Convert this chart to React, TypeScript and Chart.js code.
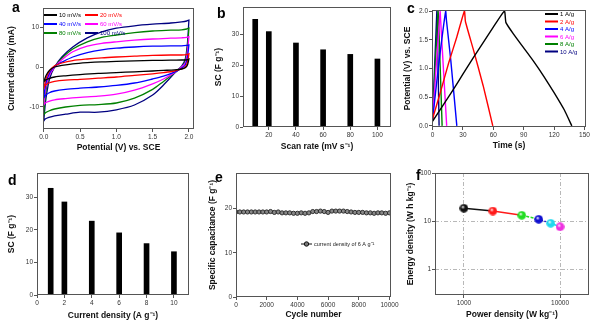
import React, { useEffect, useRef } from "react";
import { Chart, registerables } from "chart.js";

Chart.register(...registerables);

const FONT = "'Liberation Sans', Arial, Helvetica, sans-serif";
const TITLE_SIZE = 8.5;
const TICK_SIZE = 6.5;

// ---------- Panel a: cyclic voltammetry ----------
const cvFwdPotential = [0, 0.03, 0.08, 0.15, 0.25, 0.4, 0.6, 0.8, 1.0, 1.25, 1.5, 1.75, 1.9, 1.97, 2.0];
const cvRevPotential = [2.0, 1.98, 1.95, 1.9, 1.8, 1.65, 1.5, 1.25, 1.0, 0.75, 0.5, 0.3, 0.15, 0.07, 0.02, 0.0];
const cvLabels = ["10 mV/s", "20 mV/s", "40 mV/s", "60 mV/s", "80 mV/s", "100 mV/s"];
const cvColors = ["#000000", "#ff0000", "#0000ff", "#ff00ff", "#008000", "#000080"];
const cv10Fwd = [-3.8, -2.2, -0.8, 0, 0.4, 0.8, 1.1, 1.3, 1.4, 1.55, 1.65, 1.7, 1.75, 1.8, 2.0];
const cv10Rev = [2.0, 0.5, -0.2, -0.5, -0.7, -0.85, -1.0, -1.2, -1.4, -1.6, -1.9, -2.2, -2.5, -2.9, -3.3, -3.8];
const cv20Fwd = [-5.5, -3, -1, 0.3, 1.0, 1.6, 2.0, 2.3, 2.5, 2.7, 2.9, 3.0, 3.0, 3.1, 3.3];
const cv20Rev = [3.3, 1.2, 0, -0.5, -1.0, -1.4, -1.7, -2.1, -2.5, -2.8, -3.1, -3.3, -3.6, -4, -4.6, -5.5];
const cv40Fwd = [-7.8, -4, -1.5, 0.2, 1.2, 2.5, 3.6, 4.3, 4.7, 5.0, 5.2, 5.3, 5.3, 5.4, 5.5];
const cv40Rev = [5.5, 2.5, 0.5, -0.3, -1.3, -2.3, -3.0, -4.0, -4.6, -5.0, -5.3, -5.6, -6, -6.5, -7.2, -7.8];
const cv60Fwd = [-9.5, -5, -2, 0, 1.8, 3.8, 5.2, 5.9, 6.3, 6.7, 7.0, 7.2, 7.3, 7.4, 7.6];
const cv60Rev = [7.6, 4, 1, 0, -1.4, -3, -4.2, -5.8, -6.8, -7.3, -7.6, -7.9, -8.2, -8.6, -9, -9.5];
const cv80Fwd = [-12, -6, -2, 0, 2.2, 4.5, 6.3, 7.4, 8.0, 8.6, 9.0, 9.2, 9.3, 9.5, 9.7];
const cv80Rev = [9.7, 5, 1.5, 0, -1.5, -3.6, -5.6, -7.8, -9.0, -9.4, -9.6, -10, -10.5, -11, -11.5, -12];
const cv100Fwd = [-13.5, -8, -3, 0, 2.5, 5.0, 7.3, 8.8, 9.7, 10.3, 10.7, 11.0, 11.3, 11.5, 11.7];
const cv100Rev = [11.7, 6, 2, 0.2, -1.6, -4.5, -7.0, -9.5, -10.7, -11.3, -11.3, -11.8, -12.2, -12.6, -13.0, -13.5];
const cvFwdSeries = [cv10Fwd, cv20Fwd, cv40Fwd, cv60Fwd, cv80Fwd, cv100Fwd];
const cvRevSeries = [cv10Rev, cv20Rev, cv40Rev, cv60Rev, cv80Rev, cv100Rev];
const cvXTicks = [0, 0.5, 1.0, 1.5, 2.0];
const cvYTicks = [-10, 0, 10];

// ---------- Panel b: SC vs scan rate ----------
const scanRates = [10, 20, 40, 60, 80, 100];
const scByScanRate = [35, 31, 27.3, 25.1, 23.6, 22.1];
const scanXTicks = [20, 40, 60, 80, 100];
const scanYTicks = [0, 10, 20, 30];

// ---------- Panel c: galvanostatic charge/discharge ----------
const gcdLabels = ["1 A/g", "2 A/g", "4 A/g", "6 A/g", "8 A/g", "10 A/g"];
const gcdColors = ["#000000", "#ff0000", "#0000ff", "#ff00ff", "#008000", "#000080"];
const gcd1Time = [0, 10, 20, 30, 40, 50, 60, 71, 72.5, 80, 90, 100, 110, 120, 130, 137.5];
const gcd1Pot = [0.08, 0.35, 0.62, 0.9, 1.18, 1.45, 1.72, 2.0, 1.8, 1.6, 1.36, 1.12, 0.86, 0.58, 0.28, 0];
const gcd2Time = [0, 8, 16, 24, 31.5, 32.5, 40, 50, 59.5];
const gcd2Pot = [0.12, 0.6, 1.1, 1.55, 2.0, 1.82, 1.35, 0.7, 0];
const gcd4Time = [0, 6, 13, 13.7, 18, 24];
const gcd4Pot = [0.1, 1.05, 2.0, 1.85, 1.15, 0];
const gcd6Time = [0, 7.5, 8, 14];
const gcd6Pot = [0.1, 2.0, 1.85, 0];
const gcd8Time = [0, 5.5, 6, 9.5];
const gcd8Pot = [0.1, 2.0, 1.85, 0];
const gcd10Time = [0, 4.3, 4.7, 6.5];
const gcd10Pot = [0.1, 2.0, 1.85, 0];
const gcdTimes = [gcd1Time, gcd2Time, gcd4Time, gcd6Time, gcd8Time, gcd10Time];
const gcdPots = [gcd1Pot, gcd2Pot, gcd4Pot, gcd6Pot, gcd8Pot, gcd10Pot];
const timeTicks = [0, 30, 60, 90, 120, 150];
const potTicks = [0, 0.5, 1.0, 1.5, 2.0];

// ---------- Panel d: SC vs current density ----------
const currentDensities = [1, 2, 4, 6, 8, 10];
const scByCurrent = [32.8, 28.6, 22.7, 19.1, 15.8, 13.3];
const currentXTicks = [0, 2, 4, 6, 8, 10];
const currentYTicks = [0, 10, 20, 30];

// ---------- Panel e: cycling stability ----------
const cycleNumbers = [0, 250, 500, 750, 1000, 1250, 1500, 1750, 2000, 2250, 2500, 2750, 3000, 3250, 3500, 3750, 4000, 4250, 4500, 4750, 5000, 5250, 5500, 5750, 6000, 6250, 6500, 6750, 7000, 7250, 7500, 7750, 8000, 8250, 8500, 8750, 9000, 9250, 9500, 9750, 10000];
const cycleCapacitance = [19.2, 19.2, 19.2, 19.2, 19.2, 19.2, 19.2, 19.2, 19.2, 19.3, 19.1, 19.2, 19.0, 19.0, 19.0, 18.9, 18.9, 19.0, 18.9, 19.0, 19.3, 19.3, 19.4, 19.3, 19.1, 19.4, 19.4, 19.4, 19.4, 19.3, 19.2, 19.1, 19.1, 19.1, 19.0, 19.0, 18.9, 19.0, 19.0, 18.9, 19.0];
const cycleLabel = "current density of 6 A g\u207B\u00B9";
const cycleXTicks = [0, 2000, 4000, 6000, 8000, 10000];
const cycleYTicks = [0, 10, 20];

// ---------- Panel f: Ragone plot ----------
const powerDensity = [1000, 2000, 4000, 6000, 8000, 10000];
const energyDensity = [18.5, 16.2, 13.2, 10.9, 9.0, 7.6];
const ragoneColors = ["#111111", "#ff1a1a", "#22dd22", "#1010d0", "#20d8ee", "#ee30e0"];
const powerTicks = [1000, 10000];
const energyTicks = [1, 10, 100];

// ---------- layout ----------
type Panel = {
  box: { left: number; top: number; width: number; height: number };
  plot: { l: number; r: number; t: number; b: number };
  yTitleX: number;
  xTitleY: number;
};

const PA: Panel = { box: { left: 0, top: 0, width: 205, height: 163 }, plot: { l: 43, r: 194, t: 8, b: 129 }, yTitleX: 12, xTitleY: 148 };
const PB: Panel = { box: { left: 205, top: 0, width: 195, height: 163 }, plot: { l: 243, r: 391, t: 7, b: 127 }, yTitleX: 219, xTitleY: 147 };
const PC: Panel = { box: { left: 400, top: 0, width: 200, height: 163 }, plot: { l: 432, r: 586, t: 10, b: 127 }, yTitleX: 408, xTitleY: 146 };
const PD: Panel = { box: { left: 0, top: 163, width: 200, height: 163 }, plot: { l: 37, r: 189, t: 173, b: 295 }, yTitleX: 12, xTitleY: 316 };
const PE: Panel = { box: { left: 205, top: 163, width: 200, height: 163 }, plot: { l: 236, r: 391, t: 173, b: 297 }, yTitleX: 213, xTitleY: 315 };
const PF: Panel = { box: { left: 400, top: 163, width: 200, height: 163 }, plot: { l: 435, r: 589, t: 173, b: 295 }, yTitleX: 411, xTitleY: 315 };
const PANELS = [PA, PB, PC, PD, PE, PF];

const LETTERS = [
  { t: "a", left: 12, top: 0 },
  { t: "b", left: 217, top: 6 },
  { t: "c", left: 407, top: 1 },
  { t: "d", left: 8, top: 173 },
  { t: "e", left: 215, top: 170 },
  { t: "f", left: 416, top: 168 },
];

function layoutPadding(p: Panel) {
  return {
    left: 0,
    top: p.plot.t - p.box.top,
    right: p.box.left + p.box.width - p.plot.r,
    bottom: 0,
  };
}

type AxisOpt = {
  type?: string;
  min: number;
  max: number;
  ticks: number[];
  fmt: (v: number) => string;
  title: string;
  gridColor?: string;
};

function scaleOpts(axis: "x" | "y", p: Panel, o: AxisOpt) {
  const lh = TITLE_SIZE * 1.2;
  const isX = axis === "x";
  const fixed = isX ? p.box.top + p.box.height - p.plot.b : p.plot.l - p.box.left;
  const titlePad = isX ? p.box.top + p.box.height - p.xTitleY - lh / 2 : p.yTitleX - p.box.left - lh / 2;
  return {
    type: o.type || "linear",
    position: isX ? "bottom" : "left",
    min: o.min,
    max: o.max,
    offset: false,
    afterFit: (s: any) => {
      if (isX) s.height = fixed;
      else s.width = fixed;
    },
    afterBuildTicks: (s: any) => {
      s.ticks = o.ticks.map((v) => ({ value: v }));
    },
    ticks: {
      font: { family: FONT, size: TICK_SIZE },
      color: "#333",
      padding: 1,
      autoSkip: false,
      maxRotation: 0,
      minRotation: 0,
      callback: (v: any) => o.fmt(Number(v)),
    },
    grid: {
      display: true,
      drawOnChartArea: !!o.gridColor,
      drawTicks: true,
      tickLength: 3,
      color: o.gridColor || "#555",
      tickColor: "#555",
      lineWidth: 1,
      offset: false,
    },
    border: { display: false, dash: o.gridColor ? [4, 2, 1, 2] : [] },
    title: {
      display: true,
      text: o.title,
      color: "#111",
      font: { family: FONT, size: TITLE_SIZE, weight: "bold" },
      padding: isX ? { top: 0, bottom: titlePad } : { top: titlePad, bottom: 0 },
    },
  };
}

const framePlugin = {
  id: "frame",
  afterDatasetsDraw(chart: any) {
    const { ctx, chartArea: a } = chart;
    ctx.save();
    ctx.strokeStyle = "#555";
    ctx.lineWidth = 1;
    const l = Math.round(a.left) + 0.5;
    const t = Math.round(a.top) + 0.5;
    const r = Math.round(a.right) - 0.5;
    const b = Math.round(a.bottom) - 0.5;
    ctx.strokeRect(l, t, r - l, b - t);
    ctx.restore();
  },
};

type LegendItem = { x: number; y: number; len: number; color: string; label: string; textColor?: string; marker?: boolean };

function legendPlugin(items: LegendItem[], fontSize: number) {
  return {
    id: "miniLegend",
    afterDraw(chart: any) {
      const ctx = chart.ctx;
      ctx.save();
      ctx.font = `${fontSize}px ${FONT}`;
      ctx.textBaseline = "middle";
      ctx.textAlign = "left";
      items.forEach((it) => {
        ctx.strokeStyle = it.color;
        ctx.lineWidth = it.marker ? 1 : 2;
        ctx.beginPath();
        ctx.moveTo(it.x, it.y);
        ctx.lineTo(it.x + it.len, it.y);
        ctx.stroke();
        if (it.marker) {
          ctx.beginPath();
          ctx.arc(it.x + it.len / 2, it.y, 2.2, 0, Math.PI * 2);
          ctx.fillStyle = "#777";
          ctx.fill();
          ctx.lineWidth = 1;
          ctx.strokeStyle = "#111";
          ctx.stroke();
        }
        ctx.fillStyle = it.textColor || it.color;
        ctx.fillText(it.label, it.x + it.len + 2, it.y + 0.5);
      });
      ctx.restore();
    },
  };
}

function sphere(color: string, d = 9) {
  const c = document.createElement("canvas");
  c.width = d;
  c.height = d;
  const g = c.getContext("2d")!;
  const grad = g.createRadialGradient(d * 0.36, d * 0.33, 0.2, d / 2, d / 2, d / 2);
  grad.addColorStop(0, "#ffffff");
  grad.addColorStop(0.4, color);
  grad.addColorStop(1, color);
  g.fillStyle = grad;
  g.beginPath();
  g.arc(d / 2, d / 2, d / 2 - 0.2, 0, Math.PI * 2);
  g.fill();
  return c;
}

const baseOptions = (p: Panel) => ({
  responsive: false,
  animation: false as const,
  events: [] as any[],
  layout: { padding: layoutPadding(p) },
  plugins: { legend: { display: false }, tooltip: { enabled: false }, title: { display: false } },
});

function configA(): any {
  const datasets = cvLabels.map((label, i) => {
    const pts = cvFwdPotential.map((x, j) => ({ x, y: cvFwdSeries[i][j] }))
      .concat(cvRevPotential.map((x, j) => ({ x, y: cvRevSeries[i][j] })));
    return {
      label,
      data: pts,
      showLine: true,
      borderColor: cvColors[i],
      borderWidth: 1.3,
      pointRadius: 0,
      tension: 0.3,
      fill: false,
    };
  });
  const legendItems = cvLabels.map((label, i) => ({
    x: i % 2 === 0 ? 44 : 85,
    y: 15 + Math.floor(i / 2) * 9,
    len: 13,
    color: cvColors[i],
    label,
  }));
  return {
    type: "scatter",
    data: { datasets },
    options: {
      ...baseOptions(PA),
      scales: {
        x: scaleOpts("x", PA, { min: -0.01, max: 2.07, ticks: cvXTicks, fmt: (v) => v.toFixed(1), title: "Potential (V) vs. SCE" }),
        y: scaleOpts("y", PA, { min: -15.5, max: 14.75, ticks: cvYTicks, fmt: (v) => String(v), title: "Current density (mA)" }),
      },
    },
    plugins: [framePlugin, legendPlugin(legendItems, 6)],
  };
}

function configB(): any {
  return {
    type: "bar",
    data: {
      datasets: [{
        label: "SC",
        data: scanRates.map((x, i) => ({ x, y: scByScanRate[i] })),
        backgroundColor: "#000",
        barThickness: 5,
      }],
    },
    options: {
      ...baseOptions(PB),
      scales: {
        x: scaleOpts("x", PB, { min: 1, max: 110, ticks: scanXTicks, fmt: (v) => String(v), title: "Scan rate (mV s\u207B\u00B9)" }),
        y: scaleOpts("y", PB, { min: 0, max: 39, ticks: scanYTicks, fmt: (v) => String(v), title: "SC (F g\u207B\u00B9)" }),
      },
    },
    plugins: [framePlugin],
  };
}

function configC(): any {
  const datasets = gcdLabels.map((label, i) => ({
    label,
    data: gcdTimes[i].map((x, j) => ({ x, y: gcdPots[i][j] })),
    showLine: true,
    borderColor: gcdColors[i],
    borderWidth: 1.4,
    pointRadius: 0,
    tension: 0.15,
  }));
  const legendItems = gcdLabels.map((label, i) => ({
    x: 145,
    y: 14 + i * 7.5,
    len: 13,
    color: gcdColors[i],
    label,
  }));
  return {
    type: "scatter",
    data: { datasets },
    options: {
      ...baseOptions(PC),
      scales: {
        x: scaleOpts("x", PC, { min: -0.5, max: 151.5, ticks: timeTicks, fmt: (v) => String(v), title: "Time (s)" }),
        y: scaleOpts("y", PC, { min: -0.02, max: 2.02, ticks: potTicks, fmt: (v) => v.toFixed(1), title: "Potential (V) vs. SCE" }),
      },
    },
    plugins: [framePlugin, legendPlugin(legendItems, 6)],
  };
}

function configD(): any {
  return {
    type: "bar",
    data: {
      datasets: [{
        label: "SC",
        data: currentDensities.map((x, i) => ({ x, y: scByCurrent[i] })),
        backgroundColor: "#000",
        barThickness: 5,
      }],
    },
    options: {
      ...baseOptions(PD),
      scales: {
        x: scaleOpts("x", PD, { min: 0, max: 11.1, ticks: currentXTicks, fmt: (v) => String(v), title: "Current density (A g\u207B\u00B9)" }),
        y: scaleOpts("y", PD, { min: 0, max: 37.5, ticks: currentYTicks, fmt: (v) => String(v), title: "SC (F g\u207B\u00B9)" }),
      },
    },
    plugins: [framePlugin],
  };
}

function configE(): any {
  const legendItems = [{ x: 96, y: 81, len: 11, color: "#111", label: cycleLabel, textColor: "#222", marker: true }];
  return {
    type: "scatter",
    data: {
      datasets: [{
        label: cycleLabel,
        data: cycleNumbers.map((x, i) => ({ x, y: cycleCapacitance[i] })),
        showLine: true,
        borderColor: "#111",
        borderWidth: 1,
        pointRadius: 2.1,
        pointBorderWidth: 0.9,
        pointBorderColor: "#222",
        pointBackgroundColor: "#888",
      }],
    },
    options: {
      ...baseOptions(PE),
      scales: {
        x: scaleOpts("x", PE, { min: 0, max: 10100, ticks: cycleXTicks, fmt: (v) => String(v), title: "Cycle number" }),
        y: scaleOpts("y", PE, { min: 0, max: 28, ticks: cycleYTicks, fmt: (v) => String(v), title: "Specific capacitance (F g\u207B\u00B9)" }),
      },
    },
    plugins: [framePlugin, legendPlugin(legendItems, 5.5)],
  };
}

function configF(): any {
  const styles = ragoneColors.map((c) => sphere(c, 9));
  const dashes = [[], [], [3, 1.5], [1.5, 1.5], [], []];
  return {
    type: "scatter",
    data: {
      datasets: [{
        label: "Ragone",
        data: powerDensity.map((x, i) => ({ x, y: energyDensity[i] })),
        showLine: true,
        borderWidth: 1.5,
        borderColor: "#111",
        segment: {
          borderColor: (ctx: any) => ragoneColors[ctx.p0DataIndex],
          borderDash: (ctx: any) => dashes[ctx.p0DataIndex],
        },
        pointStyle: styles,
        pointRadius: 4.5,
      }],
    },
    options: {
      ...baseOptions(PF),
      scales: {
        x: scaleOpts("x", PF, { type: "logarithmic", min: 500, max: 20000, ticks: powerTicks, fmt: (v) => String(v), title: "Power density (W kg\u207B\u00B9)", gridColor: "#b8b8b8" }),
        y: scaleOpts("y", PF, { type: "logarithmic", min: 0.29, max: 100, ticks: energyTicks, fmt: (v) => String(v), title: "Energy density (W h kg\u207B\u00B9)", gridColor: "#b8b8b8" }),
      },
    },
    plugins: [framePlugin],
  };
}

const BUILDERS = [configA, configB, configC, configD, configE, configF];

export default function App() {
  const r0 = useRef<HTMLCanvasElement>(null);
  const r1 = useRef<HTMLCanvasElement>(null);
  const r2 = useRef<HTMLCanvasElement>(null);
  const r3 = useRef<HTMLCanvasElement>(null);
  const r4 = useRef<HTMLCanvasElement>(null);
  const r5 = useRef<HTMLCanvasElement>(null);
  const refs = [r0, r1, r2, r3, r4, r5];

  useEffect(() => {
    document.body.style.margin = "0";
    document.body.style.background = "#fff";
    const charts = refs.map((r, i) => new Chart(r.current as HTMLCanvasElement, BUILDERS[i]()));
    return () => charts.forEach((c) => c.destroy());
  }, []);

  return (
    <div style={{ position: "absolute", left: 0, top: 0, width: 600, height: 326, background: "#fff", overflow: "hidden" }}>
      {PANELS.map((p, i) => (
        <canvas
          key={i}
          ref={refs[i]}
          width={p.box.width}
          height={p.box.height}
          style={{ position: "absolute", left: p.box.left, top: p.box.top, width: p.box.width, height: p.box.height }}
        />
      ))}
      {LETTERS.map((l) => (
        <div
          key={l.t}
          style={{
            position: "absolute",
            left: l.left,
            top: l.top,
            fontFamily: FONT,
            fontWeight: "bold",
            fontSize: 14,
            lineHeight: "14px",
            color: "#000",
          }}
        >
          {l.t}
        </div>
      ))}
    </div>
  );
}
